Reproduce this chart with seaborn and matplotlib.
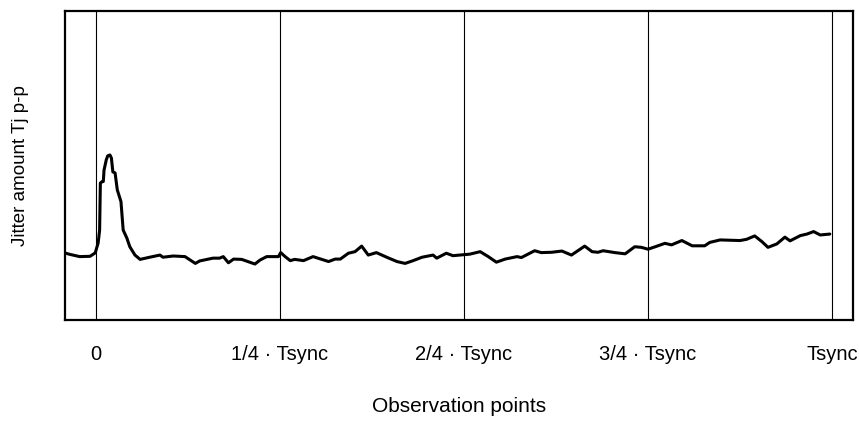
import numpy as np
import pandas as pd
import matplotlib
matplotlib.use("Agg")
import matplotlib.pyplot as plt
import seaborn as sns

# ── Data (x in units of Tsync, y in relative jitter units) ─────
obs_x = [-0.041, -0.035, -0.022, -0.008, -0.001, 0.003, 0.005, 0.006, 0.008, 0.010,
         0.011, 0.014, 0.016, 0.019, 0.021, 0.023, 0.026, 0.029, 0.034, 0.037,
         0.042, 0.046, 0.053, 0.060, 0.073, 0.087, 0.091, 0.105, 0.121, 0.135,
         0.141, 0.159, 0.168, 0.173, 0.180, 0.187, 0.198, 0.216, 0.223, 0.232,
         0.248, 0.251, 0.257, 0.264, 0.270, 0.282, 0.295, 0.316, 0.325, 0.332,
         0.343, 0.352, 0.361, 0.370, 0.381, 0.395, 0.409, 0.420, 0.431, 0.443,
         0.458, 0.463, 0.476, 0.485, 0.508, 0.522, 0.533, 0.544, 0.556, 0.572,
         0.578, 0.596, 0.605, 0.619, 0.633, 0.646, 0.664, 0.674, 0.682, 0.689,
         0.705, 0.719, 0.732, 0.741, 0.750, 0.760, 0.773, 0.782, 0.796, 0.810,
         0.827, 0.834, 0.848, 0.875, 0.884, 0.895, 0.905, 0.913, 0.925, 0.936,
         0.943, 0.957, 0.966, 0.975, 0.984, 0.997]
jitter = [0.216, 0.212, 0.205, 0.206, 0.217, 0.249, 0.291, 0.443, 0.447, 0.448,
          0.485, 0.518, 0.531, 0.534, 0.524, 0.479, 0.476, 0.421, 0.383, 0.291,
          0.265, 0.237, 0.210, 0.196, 0.203, 0.210, 0.203, 0.207, 0.205, 0.183,
          0.191, 0.200, 0.200, 0.205, 0.185, 0.197, 0.196, 0.181, 0.194, 0.205,
          0.205, 0.218, 0.205, 0.192, 0.196, 0.192, 0.205, 0.189, 0.197, 0.197,
          0.216, 0.221, 0.239, 0.210, 0.218, 0.203, 0.189, 0.183, 0.192, 0.203,
          0.210, 0.200, 0.216, 0.208, 0.213, 0.221, 0.205, 0.187, 0.197, 0.205,
          0.202, 0.224, 0.218, 0.219, 0.223, 0.210, 0.239, 0.221, 0.219, 0.224,
          0.218, 0.214, 0.237, 0.235, 0.229, 0.237, 0.248, 0.243, 0.257, 0.240,
          0.240, 0.251, 0.259, 0.257, 0.261, 0.272, 0.253, 0.235, 0.246, 0.268,
          0.256, 0.273, 0.278, 0.286, 0.275, 0.278]

tick_pos = [0, 0.25, 0.5, 0.75, 1.0]
tick_labels = ["0", "1/4 · Tsync", "2/4 · Tsync", "3/4 · Tsync", "Tsync"]

df = pd.DataFrame({"x": obs_x, "y": jitter})

# ── Plot ────────────────────────────────────────────────────────
sns.set_theme(style="white")
plt.rcParams["font.family"] = ["Liberation Sans", "DejaVu Sans"]
plt.rcParams["text.color"] = "black"
plt.rcParams["axes.labelcolor"] = "black"
plt.rcParams["xtick.color"] = "black"

fig = plt.figure(figsize=(8.59, 4.21), dpi=100)
ax = fig.add_axes([0.0757, 0.240, 0.9173, 0.734])

for t in tick_pos:
    ax.axvline(t, color="black", linewidth=0.8, zorder=1)

sns.lineplot(data=df, x="x", y="y", ax=ax, color="black", linewidth=2.2,
             sort=False, zorder=3)

ax.set_xlim(-0.042, 1.0285)
ax.set_ylim(0, 1)
ax.set_xticks(tick_pos)
ax.set_xticklabels(tick_labels, fontsize=14.5, color="black")
ax.set_yticks([])
ax.tick_params(axis="x", length=0, pad=18)
ax.set_xlabel("Observation points", fontsize=15, labelpad=24, color="black")
ax.set_ylabel("Jitter amount Tj p-p", fontsize=13.5, labelpad=26, color="black")

for s in ax.spines.values():
    s.set_color("black")
    s.set_linewidth(1.6)

fig.savefig("out.png", dpi=100)
